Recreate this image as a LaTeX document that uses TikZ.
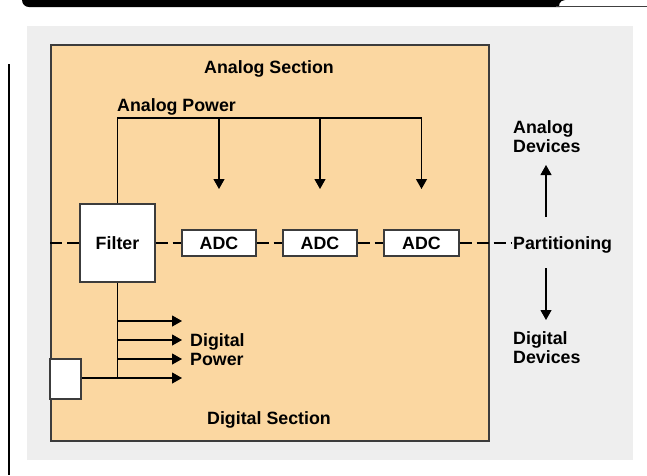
\documentclass[tikz,border=0pt]{standalone}
\usepackage{fontspec}
\setmainfont{Liberation Sans}
\usetikzlibrary{arrows.meta}
\definecolor{graybg}{RGB}{238,238,238}
\definecolor{peach}{RGB}{251,215,161}
\definecolor{edge}{RGB}{60,60,60}
\begin{document}
\begin{tikzpicture}[x=1pt,y=-1pt,
  txt/.style={font=\fontsize{17.8}{19}\selectfont\bfseries, inner sep=0pt, align=left},
  whitebox/.style={draw=edge, fill=white, line width=1.3pt, inner sep=0pt, font=\fontsize{17.8}{19}\selectfont\bfseries},
  conn/.style={line width=1.1pt, black},
  arr/.style={conn, -{Triangle[length=10pt,width=11pt]}},
  part/.style={line width=1.1pt, black, dash pattern=on 12pt off 5pt}
]
\useasboundingbox (0,0) rectangle (647,475);
% top bar
\fill[black] (22,-10) [rounded corners=7pt] -- (22,7) -- (553,7) [sharp corners] .. controls (558,7) and (559,0) .. (565,0) -- (565,-10) -- cycle;
\draw[line width=1pt, black!75] (556,6.5) -- (647,6.5);
% left rule
\draw[line width=1.2pt] (9,64) -- (9,475);
% backgrounds
\fill[graybg] (27,26) rectangle (633,460);
\node[draw=edge, fill=peach, line width=1.5pt, minimum width=438pt, minimum height=396pt, anchor=north west, inner sep=0pt] (sec) at (50,44) {};
% labels
\node[txt, anchor=base] (asec) at (269,73.5) {Analog Section};
\node[txt, anchor=base] (dsec) at (269,424.5) {Digital Section};
\node[txt, anchor=base west] (apow) at (117,111.5) {Analog Power};
\node[txt, anchor=base west] (dpow) at (190,365.5) {Digital\\Power};
\node[txt, anchor=base west] (adev) at (513,152) {Analog\\Devices};
\node[txt, anchor=base west] (ddev) at (513,363.5) {Digital\\Devices};
\node[txt, anchor=base west] (parti) at (513,249.5) {Partitioning};
% boxes
\node[whitebox, minimum width=75pt, minimum height=78pt] (filter) at (117.5,243) {Filter};
\node[whitebox, minimum width=74pt, minimum height=26pt] (adc1) at (219,243) {ADC};
\node[whitebox, minimum width=74pt, minimum height=26pt] (adc2) at (320,243) {ADC};
\node[whitebox, minimum width=75pt, minimum height=26pt] (adc3) at (421.5,243) {ADC};
\node[whitebox, minimum width=31pt, minimum height=40pt] (small) at (65.5,379) {};
% partition dashed line
\coordinate (pl) at (50,243);
\coordinate (pr) at (511,243);
\draw[part] (pl) -- (filter.west);
\draw[part] (filter.east) -- (adc1.west);
\draw[part] (adc1.east) -- (adc2.west);
\draw[part] (adc2.east) -- (adc3.west);
\draw[part] (adc3.east) -- (pr);
% analog power
\coordinate (ap1) at (117.5,118);
\coordinate (ap2) at (421.5,118);
\draw[conn] (filter.north) -- (ap1) -- (ap2);
\coordinate (t1) at (219,189);
\coordinate (t2) at (320,189);
\coordinate (t3) at (421.5,189);
\draw[arr] (219,118) -- (t1);
\draw[arr] (320,118) -- (t2);
\draw[arr] (ap2) -- (t3);
% digital power
\coordinate (dv) at (117.5,378);
\draw[conn] (filter.south) -- (dv);
\coordinate (d1) at (182,321);
\coordinate (d2) at (182,340);
\coordinate (d3) at (182,359);
\coordinate (d4) at (182,378);
\draw[arr] (117.5,321) -- (d1);
\draw[arr] (117.5,340) -- (d2);
\draw[arr] (117.5,359) -- (d3);
\draw[arr] (small.east |- d4) -- (d4);
% partition arrows
\coordinate (u0) at (546,217);
\coordinate (u1) at (546,165);
\coordinate (w0) at (546,268);
\coordinate (w1) at (546,320);
\draw[arr] (u0) -- (u1);
\draw[arr] (w0) -- (w1);
\end{tikzpicture}
\end{document}
